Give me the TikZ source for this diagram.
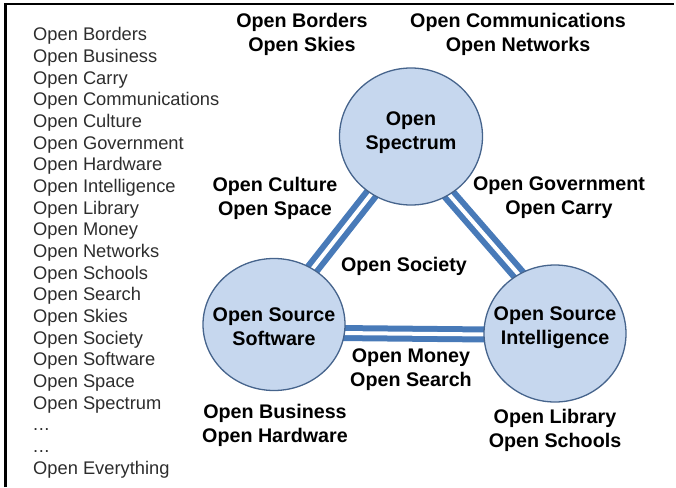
\documentclass[tikz,border=0pt]{standalone}
\usepackage{fontspec}
\setmainfont{Liberation Sans}
\usetikzlibrary{shapes.geometric}
\definecolor{connblue}{RGB}{72,122,184}
\definecolor{circfill}{RGB}{198,215,238}
\definecolor{circline}{RGB}{70,100,140}
\definecolor{listgray}{RGB}{45,45,45}
\begin{document}
\begin{tikzpicture}[x=1pt,y=-1pt,
  hub/.style={ellipse, draw=circline, line width=1.3pt, fill=circfill, inner sep=0pt},
  lbl/.style={font=\fontsize{19.7}{24}\selectfont\bfseries, align=center, inner sep=0pt},
  item/.style={font=\fontsize{18.3}{21.65}\selectfont, text=listgray, anchor=base west, inner sep=0pt},
  connout/.style={draw=connblue, line width=16pt},
  connin/.style={draw=white, line width=4pt}]
\useasboundingbox (0,0) rectangle (676,487);
\draw[line width=2.3pt] (5.5,487) -- (5.5,4) -- (674,4);

% list
\foreach \t [count=\i from 0] in {Open Borders, Open Business, Open Carry,
  Open Communications, Open Culture, Open Government, Open Hardware,
  Open Intelligence, Open Library, Open Money, Open Networks, Open Schools,
  Open Search, Open Skies, Open Society, Open Software, Open Space, Open Spectrum}
  \node[item] (l\i) at (33, 41+21.65*\i) {\t};
\node[item] (dotsa) at (33, 41+21.65*18) {.\kern0.5pt.\kern0.5pt.};
\node[item] (dotsb) at (33, 41+21.65*19) {.\kern0.5pt.\kern0.5pt.};
\node[item] (every) at (33, 41+21.65*20) {Open Everything};

% hub geometry
\tikzset{
  specsize/.style={minimum width=143pt, minimum height=137pt},
  osssize/.style={minimum width=142pt, minimum height=132pt},
  osisize/.style={minimum width=142pt, minimum height=137pt}}
\path (411,136.5) coordinate (cspec) (274,324.5) coordinate (coss) (555,333.5) coordinate (cosi);

% invisible copies to get anchors a little inside the borders
\path node[hub, specsize, draw=none, fill=none, scale=0.85] (spec0) at (cspec) {}
      node[hub, osssize, draw=none, fill=none, scale=0.85] (oss0) at (coss) {}
      node[hub, osisize, draw=none, fill=none, scale=0.85] (osi0) at (cosi) {};

% connectors (outer blue band, inner white gap)
\foreach \a/\b in {spec0.-124.6/oss0.56.5, spec0.-58.1/osi0.120.9, oss0.-8.4/osi0.181.2}{
  \draw[connout] (\a) -- (\b);
  \draw[connin] (\a) -- (\b);
}

% circles
\node[hub, specsize, label={[lbl, yshift=3.5pt]center:Open\\Spectrum}] (spec) at (cspec) {};
\node[hub, osssize, label={[lbl, yshift=-2.5pt]center:Open Source\\Software}] (oss) at (coss) {};
\node[hub, osisize, label={[lbl, yshift=6pt]center:Open Source\\Intelligence}] (osi) at (cosi) {};

% labels
\node[lbl] (bs) at (302,34) {Open Borders\\Open Skies};
\node[lbl] (cn) at (518,34) {Open Communications\\Open Networks};
\node[lbl] (cs) at (275,198) {Open Culture\\Open Space};
\node[lbl] (gc) at (559,198) {Open Government\\Open Carry};
\node[lbl] (soc) at (404,266) {Open Society};
\node[lbl] (ms) at (411,370) {Open Money\\Open Search};
\node[lbl] (bh) at (275,425) {Open Business\\Open Hardware};
\node[lbl] (ls) at (555,430) {Open Library\\Open Schools};
\end{tikzpicture}
\end{document}
